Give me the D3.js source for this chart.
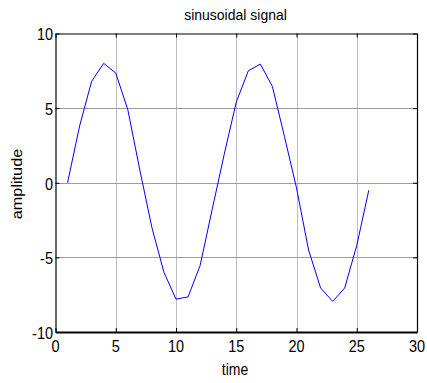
<!DOCTYPE html>
<html>
<head>
<meta charset="utf-8">
<script src="https://cdn.jsdelivr.net/npm/d3@7"></script>
<style>
  html, body { margin: 0; padding: 0; background: #fff; }
  svg { display: block; font-family: "Liberation Sans", Arial, sans-serif; }
</style>
</head>
<body>
<svg id="chart" width="427" height="383"></svg>
<script>
// sampled sinusoidal signal
const timeSamples = [1, 2, 3, 4, 5, 6, 7, 8, 9, 10, 11, 12, 13, 14, 15, 16, 17, 18, 19, 20, 21, 22, 23, 24, 25, 26];
const amplitudeValues = [0, 3.8, 6.8, 8.0, 7.35, 4.9, 0.85, -3.0, -6.0, -7.8, -7.65, -5.55, -1.8, 1.9, 5.4, 7.5, 7.95, 6.45, 3.1, -0.35, -4.5, -7.05, -7.95, -7.05, -4.2, -0.5];
const xTicks = [0, 5, 10, 15, 20, 25, 30];
const yTicks = [-10, -5, 0, 5, 10];
const titleText = "sinusoidal signal";
const xLabel = "time";
const yLabel = "amplitude";

const svg = d3.select("#chart");
const plotLeft = 55.5, plotRight = 417, plotTop = 33.5, plotBottom = 332;
const stretch = 1.12; // text is drawn slightly tall

const x = d3.scaleLinear().domain([0, 30]).range([plotLeft, plotRight]);
const y = d3.scaleLinear().domain([-10, 10]).range([plotBottom, plotTop]);

// grid
const grid = svg.append("g");
grid.selectAll("line.v").data(xTicks.slice(1, -1)).join("line")
  .attr("x1", d => Math.round(x(d)) + 0.5).attr("x2", d => Math.round(x(d)) + 0.5)
  .attr("y1", plotTop).attr("y2", plotBottom)
  .attr("stroke", "#7a7a7a").attr("stroke-width", 1).attr("stroke-dasharray", "1,1");
grid.selectAll("line.h").data(yTicks.slice(1, -1)).join("line")
  .attr("y1", d => Math.round(y(d)) + 0.5).attr("y2", d => Math.round(y(d)) + 0.5)
  .attr("x1", plotLeft).attr("x2", plotRight)
  .attr("stroke", "#9c9c9c").attr("stroke-width", 1);

// box axes with inward ticks (labels drawn separately)
const axisBottom = d3.axisBottom(x).tickValues(xTicks).tickFormat("").tickSizeInner(-4).tickSizeOuter(0);
const axisLeft = d3.axisLeft(y).tickValues(yTicks).tickFormat("").tickSizeInner(-4).tickSizeOuter(0);
const axisTop = d3.axisTop(x).tickValues(xTicks).tickFormat("").tickSizeInner(-4).tickSizeOuter(0);
const axisRight = d3.axisRight(y).tickValues(yTicks).tickFormat("").tickSizeInner(-4).tickSizeOuter(0);

function styleAxis(g, w) {
  g.select(".domain").attr("stroke", "#000").attr("stroke-width", w);
  g.selectAll(".tick line").attr("stroke", "#000");
}

svg.append("g").attr("transform", `translate(0,${plotBottom})`).call(axisBottom).call(g => styleAxis(g, 2));
svg.append("g").attr("transform", `translate(${plotLeft},0)`).call(axisLeft).call(g => styleAxis(g, 1.2));
svg.append("g").attr("transform", `translate(0,${plotTop})`).call(axisTop).call(g => styleAxis(g, 1.2));
svg.append("g").attr("transform", `translate(${plotRight},0)`).call(axisRight).call(g => styleAxis(g, 1.2));

// tick labels
svg.append("g").selectAll("text").data(xTicks).join("text")
  .attr("transform", d => `translate(${x(d)},${plotBottom + 20}) scale(1,${stretch})`)
  .attr("text-anchor", "middle").attr("font-size", 14.5).attr("fill", "#000")
  .text(d => String(d));
svg.append("g").selectAll("text").data(yTicks).join("text")
  .attr("transform", d => `translate(${plotLeft - 2.5},${y(d) + 6.8}) scale(1,${stretch})`)
  .attr("text-anchor", "end").attr("font-size", 14.5).attr("fill", "#000")
  .text(d => String(d));

// signal
const line = d3.line().x((d, i) => x(timeSamples[i])).y(d => y(d));
svg.append("path").datum(amplitudeValues)
  .attr("d", line).attr("fill", "none").attr("stroke", "#0000ff").attr("stroke-width", 1);

// title and axis labels
svg.append("text").attr("transform", `translate(235.5,19.5) scale(1,1.05)`)
  .attr("text-anchor", "middle").attr("font-size", 14).text(titleText);
svg.append("text").attr("transform", `translate(235,375) scale(1,${stretch})`)
  .attr("text-anchor", "middle").attr("font-size", 14).text(xLabel);
svg.append("text").attr("transform", `translate(21.5,184) rotate(-90) scale(${stretch},1)`)
  .attr("text-anchor", "middle").attr("font-size", 14.5).text(yLabel);
</script>
</body>
</html>
